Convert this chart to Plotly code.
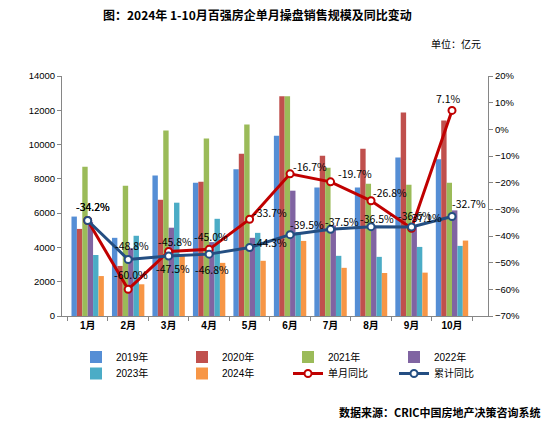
import plotly.graph_objects as go

months = ["1月", "2月", "3月", "4月", "5月", "6月", "7月", "8月", "9月", "10月"]
y2019 = [5800, 4560, 8190, 7780, 8560, 10520, 7500, 7500, 9240, 9140]
y2020 = [5080, 2920, 6780, 7830, 9470, 12820, 9350, 9760, 11870, 11400]
y2021 = [8710, 7600, 10820, 10350, 11170, 12820, 8650, 7720, 7660, 7780]
y2022 = [5500, 3950, 5150, 4310, 4560, 7310, 5280, 5150, 5220, 6160]
y2023 = [3560, 4680, 6610, 5670, 4850, 4900, 3510, 3450, 4030, 4090]
y2024 = [2330, 1850, 3500, 3100, 3220, 4380, 2810, 2510, 2530, 4400]
single_yoy = [-34.2, -60.0, -45.8, -45.0, -33.7, -16.7, -19.7, -26.8, -37.1, 7.1]
cum_yoy = [-34.2, -48.8, -47.5, -46.8, -44.3, -39.5, -37.5, -36.5, -36.6, -32.7]

# label offsets (pixels) relative to the marker, per point
single_shift = [(5, 14), (3, 15), (6, 10), (2, 13), (20, 7), (20, 7), (24, 8), (19, 8), (13, 11), (-4, 12)]
cum_shift = [(5, 14), (4, 14), (4, -12), (3, -15), (20, 5), (17, 10), (11, 8), (6, 8), (3, 11), (17, 13)]

bar_series = [
    ("2019年", y2019, "#558ED5", "legend"),
    ("2020年", y2020, "#C0504D", "legend"),
    ("2021年", y2021, "#9BBB59", "legend"),
    ("2022年", y2022, "#8064A2", "legend"),
    ("2023年", y2023, "#4BACC6", "legend2"),
    ("2024年", y2024, "#F79646", "legend2"),
]

FONT = "Liberation Sans, Noto Sans CJK SC, sans-serif"
LABFONT = "Noto Sans CJK SC, Liberation Sans, sans-serif"

fig = go.Figure()
for name, vals, col, lg in bar_series:
    fig.add_trace(go.Bar(x=months, y=vals, name=name, marker=dict(color=col, line=dict(width=0)),
                         yaxis="y", legend=lg))

fig.add_trace(go.Scatter(
    x=months, y=single_yoy, name="单月同比", yaxis="y2", mode="lines+markers",
    line=dict(color="#C00000", width=3), legend="legend2",
    marker=dict(symbol="circle", size=7, color="white", line=dict(color="#C00000", width=2)),
    cliponaxis=False,
))
fig.add_trace(go.Scatter(
    x=months, y=cum_yoy, name="累计同比", yaxis="y2", mode="lines+markers",
    line=dict(color="#244E82", width=3), legend="legend2",
    marker=dict(symbol="circle", size=7, color="white", line=dict(color="#244E82", width=2)),
    cliponaxis=False,
))

annotations = []
for vals, shifts in ((single_yoy, single_shift), (cum_yoy, cum_shift)):
    for m, v, (dx, dy) in zip(months, vals, shifts):
        annotations.append(dict(
            x=m, y=v, xref="x", yref="y2", text=f"{v:.1f}%", showarrow=False,
            xanchor="center", yanchor="middle", xshift=dx, yshift=dy,
            font=dict(family=LABFONT, size=10.5, color="black")))

annotations += [
    dict(text="<b>图：2024年 1-10月百强房企单月操盘销售规模及同比变动</b>", xref="paper", yref="paper",
         x=(257 - 62) / 426, y=1 + (76 - 14) / 240, xanchor="center", yanchor="middle",
         showarrow=False, font=dict(family=LABFONT, size=12, color="black")),
    dict(text="单位：亿元", xref="paper", yref="paper",
         x=(483 - 62) / 426, y=1 + (76 - 43) / 240, xanchor="right", yanchor="middle",
         showarrow=False, font=dict(family=LABFONT, size=10, color="black")),
    dict(text="<b>数据来源：CRIC中国房地产决策咨询系统</b>", xref="paper", yref="paper",
         x=(543 - 62) / 426, y=-(412 - 316) / 240, xanchor="right", yanchor="middle",
         showarrow=False, font=dict(family=LABFONT, size=11, color="black")),
]

axcol = "#868686"
legend_common = dict(orientation="h", xref="container", yref="container",
                     x=76 / 553, xanchor="left", yanchor="middle",
                     entrywidth=61, entrywidthmode="pixels", traceorder="normal",
                     font=dict(family=FONT, size=10), itemwidth=30, tracegroupgap=0,
                     bgcolor="rgba(0,0,0,0)")
fig.update_layout(
    width=553, height=423,
    margin=dict(l=62, r=65, t=76, b=107, autoexpand=False),
    paper_bgcolor="white", plot_bgcolor="white",
    font=dict(family=FONT, size=10, color="black"),
    barmode="group", bargap=0.2, bargroupgap=0,
    showlegend=True,
    legend=dict(**legend_common, y=1 - 357 / 423),
    legend2=dict(**legend_common, y=1 - 373.5 / 423),
    xaxis=dict(type="category", showline=True, linecolor=axcol, linewidth=1,
               ticks="outside", tickson="boundaries", ticklen=4, tickcolor=axcol,
               tickfont=dict(family=FONT, size=10, weight="bold"), showgrid=False,
               automargin=False),
    yaxis=dict(range=[0, 14000], dtick=2000, tickformat="d", showline=True, linecolor=axcol,
               linewidth=1, ticks="outside", ticklen=4, tickcolor=axcol, showgrid=False,
               zeroline=False, tickfont=dict(size=9.5), automargin=False),
    yaxis2=dict(range=[-70, 20], dtick=10, overlaying="y", side="right", showline=True,
                linecolor=axcol, linewidth=1, ticks="outside", ticklen=4, tickcolor=axcol,
                showgrid=False, zeroline=False, ticksuffix="%", tickfont=dict(size=9.5),
                automargin=False),
    annotations=annotations,
)

fig.write_html("out.html", config={"displayModeBar": False},
               post_script="document.body.style.margin='0px';")
